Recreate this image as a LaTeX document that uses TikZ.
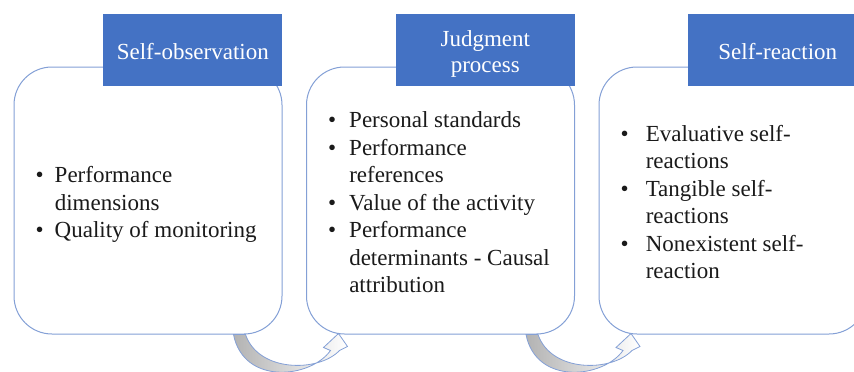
\documentclass[tikz,border=0pt]{standalone}
\usepackage{fontspec}
\setmainfont{Liberation Serif}
\usetikzlibrary{positioning}
\definecolor{headblue}{RGB}{68,114,196}
\definecolor{lineblue}{RGB}{132,160,214}
\definecolor{textgray}{RGB}{26,26,26}
\tikzset{
	stagebox/.style = {draw = lineblue, line width = 1pt, fill = white, rounded corners = 38pt, minimum width = 268pt, minimum height = 267pt, inner sep = 0pt},
	headbox/.style = {fill = headblue, text = white, minimum width = 179pt, minimum height = 72pt, inner sep = 0pt, font = \fontsize{23}{26.5}\selectfont},
	itemlist/.style = {anchor = west, inner sep = 0pt, text = textgray, font = \fontsize{23}{27.5}\selectfont},
	bendarrow/.style = {draw = lineblue, line width = 0.8pt, left color = gray!60, right color = white}
}
\newcommand{\headtext}[1]{\raisebox{-4pt}[\height][\depth]{\begin{tabular}{@{}c@{}}#1\end{tabular}}}
\newcommand{\bulletlist}[2]{\begin{tabular}{@{}l@{\hspace{#1}}l@{}}#2\end{tabular}}
\begin{document}
\begin{tikzpicture}[x = 1pt, y = -1pt]
	\useasboundingbox (0, 0) rectangle (854, 372);
	% Nodes
	\node[stagebox] (obs) at (148, 200.5) {};
	\node[stagebox] (judg) at (440.5, 200.5) {};
	\node[stagebox] (react) at (733, 200.5) {};
	
	\node[headbox, anchor = south east] (obshead) at ([yshift = -20pt]obs.north east) {\headtext{Self-observation}};
	\node[headbox, anchor = south east] (judghead) at ([yshift = -20pt]judg.north east) {\headtext{Judgment\\process}};
	\node[headbox, anchor = south east] (reacthead) at ([yshift = -20pt]react.north east) {\headtext{Self-reaction}};
	
	\node[itemlist] (obslist) at ([xshift = 22pt, yshift = -4pt]obs.west) {\bulletlist{11pt}{\textbullet & Performance\\ & dimensions\\ \textbullet & Quality of monitoring}};
	\node[itemlist] (judglist) at ([xshift = 22pt, yshift = -4pt]judg.west) {\bulletlist{13pt}{\textbullet & Personal standards\\ \textbullet & Performance\\ & references\\ \textbullet & Value of the activity\\ \textbullet & Performance\\ & determinants - Causal\\ & attribution}};
	\node[itemlist] (reactlist) at ([xshift = 22pt, yshift = -4pt]react.west) {\bulletlist{17pt}{\textbullet & Evaluative self-\\ & reactions\\ \textbullet & Tangible self-\\ & reactions\\ \textbullet & Nonexistent self-\\ & reaction}};
	
	% Edges
	\begin{scope}[shift = {(obs.south east)}]
		\path[bendarrow] (-49, 0) .. controls (-39, 51) and (28, 44) .. (48, 16) -- (41, 13) -- (56, -1) -- (65, 12) -- (57, 16) .. controls (36, 38) and (-24, 38) .. (-37, 0) -- cycle;
	\end{scope}
	\begin{scope}[shift = {(judg.south east)}]
		\path[bendarrow] (-49, 0) .. controls (-39, 51) and (28, 44) .. (48, 16) -- (41, 13) -- (56, -1) -- (65, 12) -- (57, 16) .. controls (36, 38) and (-24, 38) .. (-37, 0) -- cycle;
	\end{scope}
\end{tikzpicture}
\end{document}
